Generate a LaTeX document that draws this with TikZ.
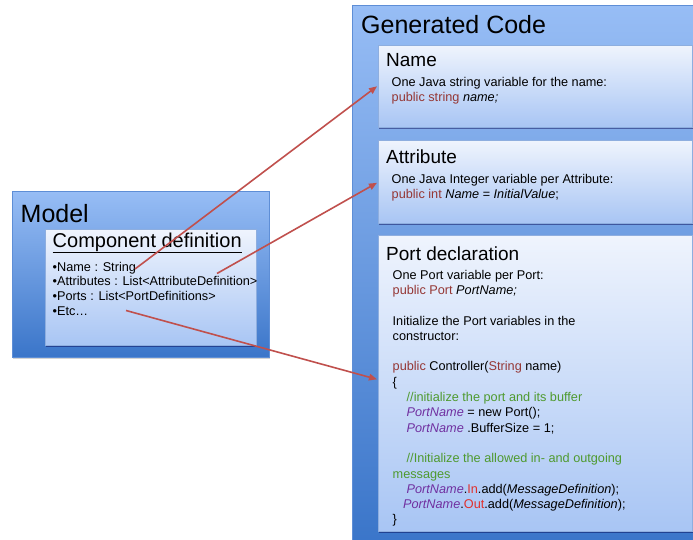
\documentclass[tikz,border=0pt]{standalone}
\usepackage{fontspec}
\setmainfont{Liberation Sans}
\usetikzlibrary{shadows,arrows.meta}

\definecolor{outtop}{HTML}{97BDF5}
\definecolor{outbot}{HTML}{3A75C9}
\definecolor{outline}{HTML}{5E8ED6}
\definecolor{intop}{HTML}{EFF4FD}
\definecolor{inbot}{HTML}{A8C5F4}
\definecolor{inline}{HTML}{8EAEDF}
\definecolor{kw}{HTML}{953735}
\definecolor{pu}{HTML}{7030A0}
\definecolor{cm}{HTML}{4F9A2F}
\definecolor{hot}{HTML}{E0302C}
\definecolor{link}{HTML}{C0504D}

\newcommand{\kwd}[1]{\textcolor{kw}{#1}}
\newcommand{\pn}[1]{\textcolor{pu}{\itshape #1}}

\begin{document}
\begin{tikzpicture}[x=1pt,y=-1pt,
  outerbox/.style={rectangle, anchor=north west, inner sep=0pt, draw=outline,
    line width=0.5pt, top color=outtop, bottom color=outbot,
    drop shadow={shadow xshift=1pt, shadow yshift=-1.5pt, opacity=0.35}},
  innerbox/.style={rectangle, anchor=north west, inner sep=0pt, draw=inline,
    line width=0.6pt, top color=intop, bottom color=inbot,
    drop shadow={shadow xshift=1pt, shadow yshift=-1.5pt, opacity=0.45, fill=black!70!blue}},
  bigtitle/.style={anchor=north west, inner sep=0pt, font=\fontsize{25}{30}\selectfont},
  boxtitle/.style={anchor=north west, inner sep=0pt, font=\fontsize{19}{23}\selectfont},
  body/.style={anchor=north west, inner sep=0pt, align=left, font=\fontsize{12.7}{15.3}\selectfont},
  linkarrow/.style={draw=link, line width=1.6pt, -{Triangle[length=8pt,width=6.5pt]}}
]
\useasboundingbox (0,0) rectangle (693,540);

% ---- Model side ----
\node[outerbox, minimum width=257pt, minimum height=166pt] (model) at (12,191) {};
\node[bigtitle] (modeltitle) at (20.5,203.7) {Model};
\node[innerbox, minimum width=211pt, minimum height=116pt] (comp) at (45,229) {};
\node[anchor=north west, inner sep=0pt, font=\fontsize{20}{24}\selectfont] (comptitle) at (52.5,232.4) {\underline{Component definition}};
\node[body, font=\fontsize{12.7}{14.8}\selectfont] (bullets) at (52.5,261.7)
  {•Name : String\\
   •Attributes : List<AttributeDefinition>\\
   •Ports : List<PortDefinitions>\\
   •Etc…};

% ---- Generated code side ----
\node[outerbox, minimum width=350pt, minimum height=540pt] (gen) at (352,5) {};
\node[bigtitle] (gentitle) at (361,14.7) {Generated Code};

\node[innerbox, minimum width=314pt, minimum height=82pt] (namebox) at (378,45) {};
\node[boxtitle] (nametitle) at (386,53.4) {Name};
\node[body] (namebody) at (391.5,76.8)
  {One Java string variable for the name:\\
   \kwd{public string} \textit{name;}};

\node[innerbox, minimum width=314pt, minimum height=83pt] (attrbox) at (378,140) {};
\node[boxtitle] (attrtitle) at (386,149.1) {Attribute};
\node[body] (attrbody) at (391.5,173.7)
  {One Java Integer variable per Attribute:\\
   \kwd{public int} \textit{Name = InitialValue};};

\node[innerbox, minimum width=314pt, minimum height=296pt] (portbox) at (378,235) {};
\node[boxtitle] (porttitle) at (386,246.1) {Port declaration};
\node[body] (portbody) at (392.5,269.7)
  {One Port variable per Port:\\
   \kwd{public Port} \textit{PortName;}\\
   \mbox{}\\
   Initialize the Port variables in the\\
   constructor:\\
   \mbox{}\\
   \kwd{public} Controller(\kwd{String} name)\\
   \{\\
   \hspace*{14pt}\textcolor{cm}{//initialize the port and its buffer}\\
   \hspace*{14pt}\pn{PortName} = new Port();\\
   \hspace*{14pt}\pn{PortName} .BufferSize = 1;\\
   \mbox{}\\
   \hspace*{14pt}\textcolor{cm}{//Initialize the allowed in- and outgoing}\\
   \textcolor{cm}{messages}\\
   \hspace*{14pt}\pn{PortName}.\textcolor{hot}{In}.add(\textit{MessageDefinition});\\
   \hspace*{10.5pt}\pn{PortName}.\textcolor{hot}{Out}.add(\textit{MessageDefinition});\\
   \}};

% ---- links from the model fields to the generated code ----
\coordinate (fname) at (135,269);
\coordinate (fattr) at (217,273.5);
\coordinate (fport) at (126,310.5);
\draw[linkarrow] (fname) -- ([xshift=-1pt]namebox.west);
\draw[linkarrow] (fattr) -- ([xshift=-1pt,yshift=-1pt]attrbox.west);
\draw[linkarrow] (fport) -- ([xshift=-1pt,yshift=4pt]portbox.west);
\end{tikzpicture}
\end{document}
